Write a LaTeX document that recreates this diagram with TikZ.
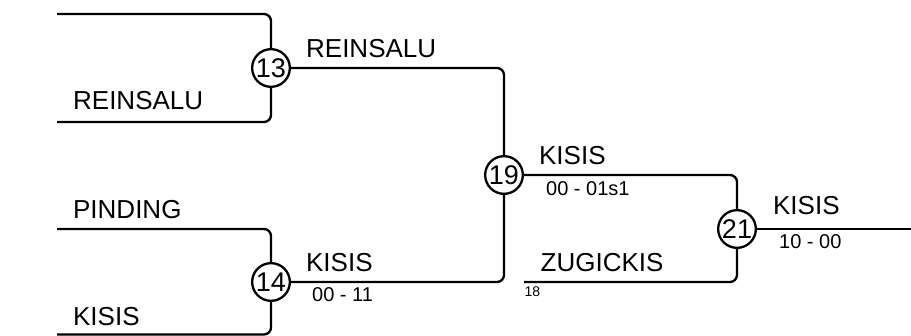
\documentclass[tikz,border=0pt]{standalone}
\usepackage{fontspec}
\setmainfont{Liberation Sans}
\begin{document}
\begin{tikzpicture}[x=1pt,y=-1pt,line width=2.3pt,
  game/.style={draw,circle,minimum size=37.7pt,inner sep=0pt,font=\fontsize{27}{27}\selectfont},
  team/.style={anchor=base west,inner sep=0pt,font=\fontsize{26}{26}\selectfont},
  score/.style={anchor=base west,inner sep=0pt,font=\fontsize{20}{20}\selectfont},
  seed/.style={anchor=base west,inner sep=0pt,font=\fontsize{14}{14}\selectfont}]
\useasboundingbox (0,0) rectangle (911,336);
\node[game] (g13) at (271,68) {13};
\node[game] (g14) at (271,282) {14};
\node[game] (g19) at (504,175) {19};
\node[game] (g21) at (737,229) {21};
\coordinate (in1) at (57,14);
\coordinate (in2) at (57,122);
\coordinate (in3) at (57,229);
\coordinate (in4) at (57,334.5);
\coordinate (in5) at (524,282);
\coordinate (out) at (911,229);
\draw[rounded corners=7pt] (in1) -| (g13.north);
\draw[rounded corners=7pt] (in2) -| (g13.south);
\draw[rounded corners=7pt] (in3) -| (g14.north);
\draw[rounded corners=7pt] (in4) -| (g14.south);
\draw[rounded corners=7pt] (g13.east) -| (g19.north);
\draw[rounded corners=7pt] (g14.east) -| (g19.south);
\draw[rounded corners=7pt] (g19.east) -| (g21.north);
\draw[rounded corners=7pt] (in5) -| (g21.south);
\draw (g21.east) -- (out);
\node[team] (t1) at (72,110) {REINSALU};
\node[team] (t2) at (72,219) {PINDING};
\node[team] (t3) at (72,325.5) {KISIS};
\node[team] (w13) at (305,58) {REINSALU};
\node[team] (w14) at (305,271.5) {KISIS};
\node[score] (s14) at (311,302) {00 - 11};
\node[team] (w19) at (538,165) {KISIS};
\node[score] (s19) at (545,196) {00 - 01s1};
\node[team] (t4) at (539.5,271.5) {ZUGICKIS};
\node[seed] (n4) at (523.5,296.5) {18};
\node[team] (w21) at (772,215) {KISIS};
\node[score] (s21) at (778,249) {10 - 00};
\end{tikzpicture}
\end{document}
